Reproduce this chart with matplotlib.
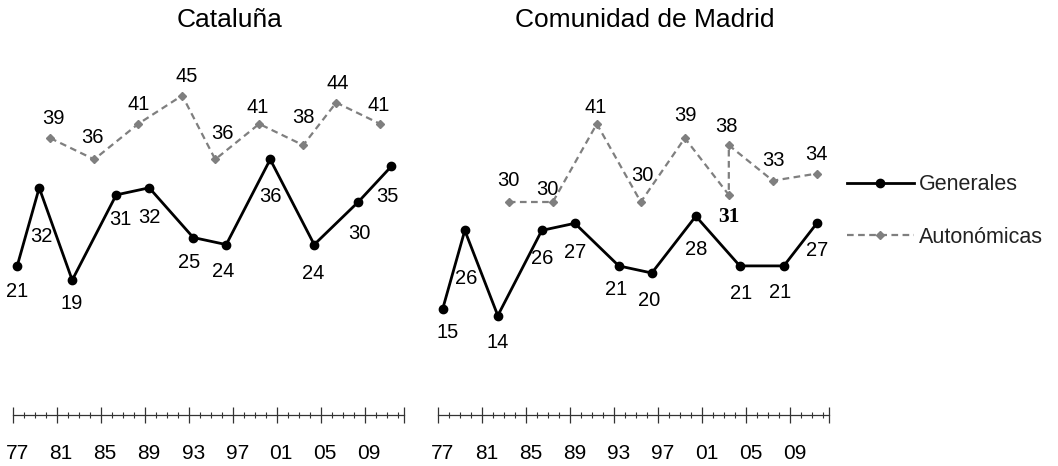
import matplotlib.pyplot as plt

plt.rcParams['font.family'] = ['Liberation Sans', 'DejaVu Sans']

# Cataluña
cat_gen_years = [1977, 1979, 1982, 1986, 1989, 1993, 1996, 2000, 2004, 2008, 2011]
cat_gen_values = [21, 32, 19, 31, 32, 25, 24, 36, 24, 30, 35]
cat_aut_years = [1980, 1984, 1988, 1992, 1995, 1999, 2003, 2006, 2010]
cat_aut_values = [39, 36, 41, 45, 36, 41, 38, 44, 41]

# Comunidad de Madrid (2003 tuvo dos autonómicas: mayo y octubre)
mad_gen_years = [1977, 1979, 1982, 1986, 1989, 1993, 1996, 2000, 2004, 2008, 2011]
mad_gen_values = [15, 26, 14, 26, 27, 21, 20, 28, 21, 21, 27]
mad_aut_years = [1983, 1987, 1991, 1995, 1999, 2003, 2003, 2007, 2011]
mad_aut_values = [30, 30, 41, 30, 39, 31, 38, 33, 34]

label_years = [1977, 1981, 1985, 1989, 1993, 1997, 2001, 2005, 2009]
tick_labels = ['77', '81', '85', '89', '93', '97', '01', '05', '09']

# desplazamiento de las etiquetas (pixeles, x derecha / y arriba)
cat_gen_off = [(0, -24), (2, -47), (-1, -22), (4, -23), (0, -28), (-4, -23),
               (-3, -25), (0, -36), (-1, -27), (1, -30), (-4, -28)]
cat_aut_off = [(3, 21), (-2, 23), (0, 21), (4, 21), (7, 27), (-2, 18),
               (0, 29), (2, 21), (-2, 20)]
mad_gen_off = [(5, -23), (1, -47), (0, -25), (0, -27), (0, -28), (-3, -22),
               (-3, -26), (0, -32), (1, -26), (-4, -25), (0, -26)]
mad_aut_off = [(0, 23), (-5, 14), (-1, 18), (2, 28), (1, 24), (0, -20),
               (-2, 20), (1, 22), (0, 21)]

W, H = 1058, 466
fig = plt.figure(figsize=(W / 100, H / 100), dpi=100)

shift = 0.41
px_year = 11.0
ax_w = 391
x0 = label_years[0] - shift
x1 = x0 + ax_w / px_year

gray = '#7f7f7f'
axis_col = '#333333'


def panel(left, title, title_x, gy, gv, goff, ay, av, aoff, bold_idx=None):
    ax = fig.add_axes([left / W, 51 / H, ax_w / W, 355 / H])
    ax.set_xlim(x0, x1)
    ax.set_ylim(0, 50)
    lg, = ax.plot(gy, gv, color='black', lw=2, marker='o', ms=6,
                  clip_on=False, zorder=3, label='Generales')
    la, = ax.plot(ay, av, color=gray, lw=1.6, ls=(0, (3, 2)), marker='D',
                  ms=4.5, clip_on=False, zorder=2, label='Autonómicas')
    for x, v, (dx, dy) in zip(gy, gv, goff):
        ax.annotate(str(v), (x, v), xytext=(dx, dy - 7), textcoords='offset pixels',
                    ha='center', va='baseline', fontsize=14.5)
    for i, (x, v, (dx, dy)) in enumerate(zip(ay, av, aoff)):
        kw = dict(fontsize=14.5)
        if i == bold_idx:
            kw = dict(family=['Liberation Serif', 'DejaVu Serif'], weight='bold',
                      fontsize=15.5)
        ax.annotate(str(v), (x, v), xytext=(dx, dy - 7), textcoords='offset pixels',
                    ha='center', va='baseline', **kw)

    for s in ['top', 'left', 'right']:
        ax.spines[s].set_visible(False)
    ax.spines['bottom'].set_color(axis_col)
    ax.spines['bottom'].set_linewidth(0.9)
    ax.set_yticks([])
    ax.set_xticks([y - shift for y in label_years] + [x1])
    ax.set_xticks([x0 + k for k in range(36)], minor=True)
    ax.tick_params(axis='x', which='major', direction='inout', length=12.2,
                   width=0.9, color=axis_col, labelbottom=False)
    ax.tick_params(axis='x', which='minor', direction='inout', length=5,
                   width=0.8, color=axis_col)
    for y, lab in zip(label_years, tick_labels):
        ax.text(y, -0.124, lab, transform=ax.get_xaxis_transform(),
                ha='center', va='baseline', fontsize=15)
    fig.text(title_x / W, 1 - 27 / H, title, ha='center', va='baseline', fontsize=19)
    return lg, la


lg, la = panel(12.7, 'Cataluña', 230, cat_gen_years, cat_gen_values, cat_gen_off,
               cat_aut_years, cat_aut_values, cat_aut_off)
panel(438.3, 'Comunidad de Madrid', 645, mad_gen_years, mad_gen_values, mad_gen_off,
      mad_aut_years, mad_aut_values, mad_aut_off, bold_idx=5)

fig.legend([lg, la], ['Generales', 'Autonómicas'], loc='center left',
           bbox_to_anchor=(847 / W, 1 - 211 / H), frameon=False, fontsize=15.5,
           handlelength=3.1, handletextpad=0.25, labelspacing=1.45, borderpad=0,
           borderaxespad=0, numpoints=1, labelcolor='#222222')

fig.savefig('out.png', dpi=100)
